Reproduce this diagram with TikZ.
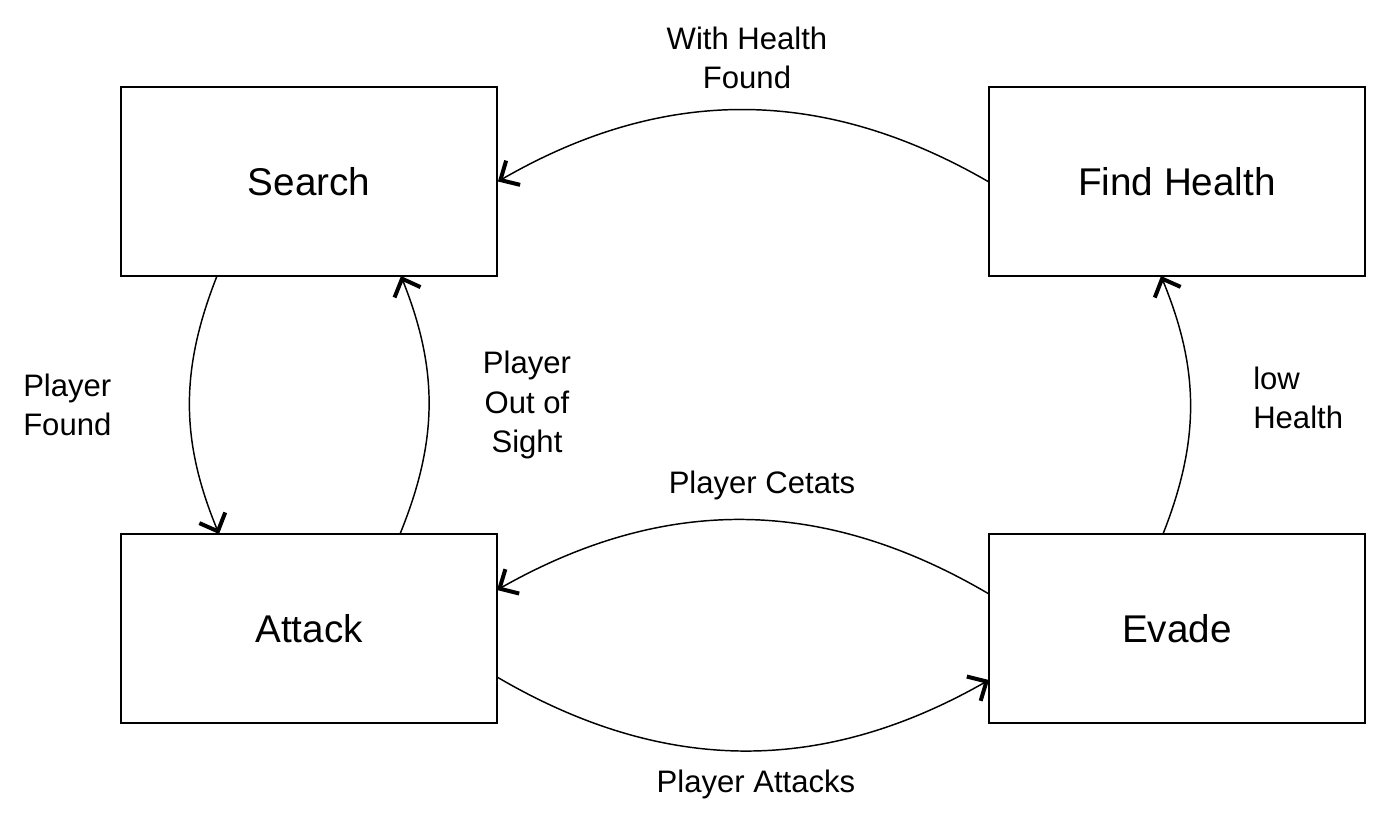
\documentclass[tikz,border=0pt]{standalone}
\usepackage{fontspec}
\setmainfont{Liberation Sans}
\usetikzlibrary{arrows.meta}
\begin{document}
\begin{tikzpicture}[x=0.75pt,y=-0.75pt,
  state/.style={draw,line width=1.4pt,minimum width=282pt,minimum height=141.75pt,inner sep=0pt,font=\fontsize{29}{34}\selectfont},
  lbl/.style={font=\fontsize{23.3}{29.5}\selectfont,inner sep=0pt},
  conn/.style={line width=1.1pt,-{Straight Barb[length=11pt,width=21pt,line width=3pt]}}]
\useasboundingbox (0,0) rectangle (1390,828);
\node[state] (S) at (309,181.5) {Search};
\node[state] (F) at (1177,181.5) {Find Health};
\node[state] (A) at (309,628.5) {Attack};
\node[state] (E) at (1177,628.5) {Evade};
\coordinate (Fw) at (F.west);
\coordinate (Se) at (S.east);
\draw[conn] (Fw) to[bend right=30] (Se);
\coordinate (Sb) at (217,276);
\coordinate (At) at (219,534);
\draw[conn] (Sb) to[bend right=22] (At);
\coordinate (At2) at (400,534);
\coordinate (Sb2) at (401,276);
\draw[conn] (At2) to[bend right=22] (Sb2);
\coordinate (Ew) at (989,594);
\coordinate (Ae) at (497,590);
\draw[conn] (Ew) to[bend right=30] (Ae);
\coordinate (Ae2) at (497,677);
\coordinate (Ew2) at (989,680);
\draw[conn] (Ae2) to[bend right=30] (Ew2);
\coordinate (Et) at (1163,534);
\coordinate (Fb) at (1161,276);
\draw[conn] (Et) to[bend right=22] (Fb);
\node[lbl,align=center] (l1) at (747,58) {With Health\\Found};
\node[lbl,align=left,anchor=west] (l2) at (23,405) {Player\\Found};
\node[lbl,align=center] (l3) at (527,405) {Player\\Out of\\Sight};
\node[lbl,align=left,anchor=west] (l4) at (1253,398) {low\\Health};
\node[lbl] (l5) at (762,485) {Player Cetats};
\node[lbl] (l6) at (756,784) {Player Attacks};
\end{tikzpicture}
\end{document}
